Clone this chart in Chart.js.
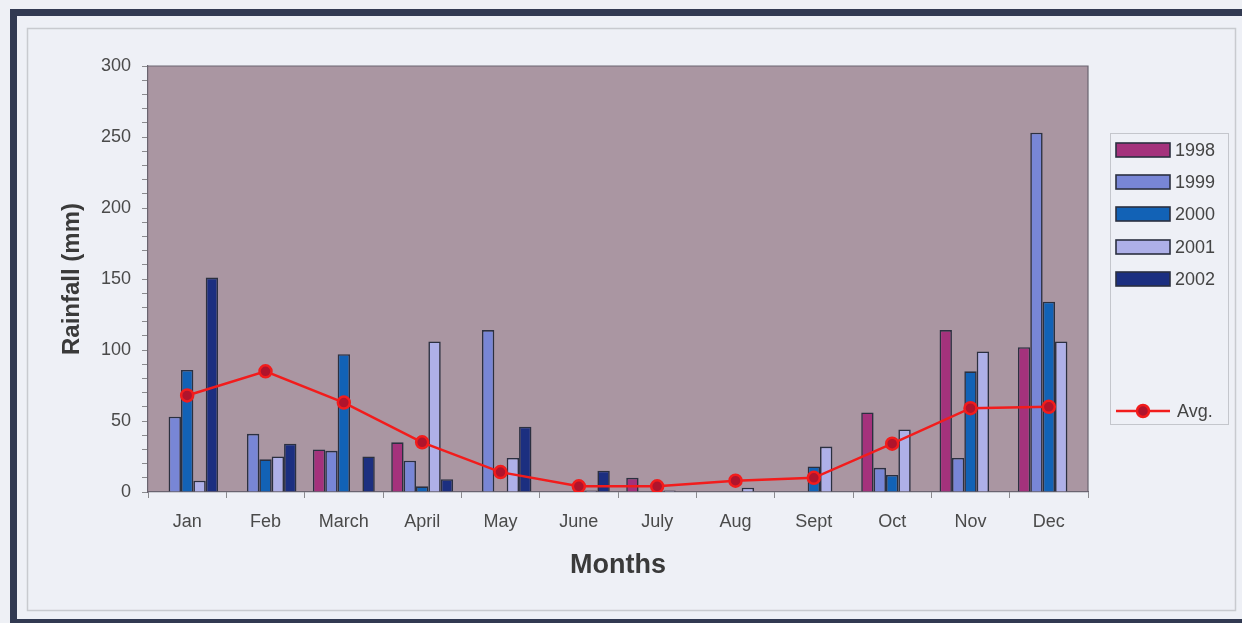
<!DOCTYPE html>
<html>
<head>
<meta charset="utf-8">
<script src="https://cdn.jsdelivr.net/npm/chart.js@4.4.1/dist/chart.umd.min.js"></script>
<style>
  html, body { margin: 0; padding: 0; background: #eef0f5; }
  #wrap { width: 1242px; height: 623px; position: relative; }
</style>
</head>
<body>
<div id="wrap"><canvas id="c" width="1242" height="623"></canvas></div>
<script>
const months = ["Jan", "Feb", "March", "April", "May", "June", "July", "Aug", "Sept", "Oct", "Nov", "Dec"];
const rain1998 = [0, 0, 30, 35, 0, 0, 10, 0, 0, 56, 114, 102];
const rain1999 = [53, 41, 29, 22, 114, 0, 0, 0, 0, 17, 24, 253];
const rain2000 = [86, 23, 97, 4, 0, 0, 0, 0, 18, 12, 85, 134];
const rain2001 = [8, 25, 0, 106, 24, 1, 1, 3, 32, 44, 99, 106];
const rain2002 = [151, 34, 25, 9, 46, 15, 0, 0, 0, 0, 0, 0];
const rainAvg = [68, 85, 63, 35, 14, 4, 4, 8, 10, 34, 59, 60];
const yTickLabels = [0, 50, 100, 150, 200, 250, 300];
const yMinorStep = 10;

const barBorder = "#2b3040";
function barSet(label, data, color) {
  return { type: "bar", label, data, backgroundColor: color, borderColor: barBorder,
           borderWidth: 1.6, order: 1, categoryPercentage: 0.79, barPercentage: 1.0 };
}

const framePlugin = {
  id: "frame",
  beforeDraw(chart) {
    const ctx = chart.ctx;
    ctx.save();
    ctx.fillStyle = "#eef0f5";
    ctx.fillRect(0, 0, 1242, 623);
    ctx.fillStyle = "#323a52";
    ctx.fillRect(10, 9, 1232, 7);
    ctx.fillRect(10, 9, 7, 614);
    ctx.fillRect(10, 619, 1232, 4);
    ctx.fillStyle = "#eef0f6";
    ctx.fillRect(17, 16, 1225, 603);
    ctx.strokeStyle = "#c8cacf";
    ctx.lineWidth = 1.5;
    ctx.strokeRect(27.5, 28.5, 1208, 582);
    const a = chart.chartArea;
    ctx.fillStyle = "#aa96a2";
    ctx.fillRect(a.left, a.top, a.right - a.left, a.bottom - a.top);
    ctx.restore();
  },
  afterDatasetsDraw(chart) {
    const ctx = chart.ctx;
    const a = chart.chartArea;
    ctx.save();
    ctx.strokeStyle = "#6a6470";
    ctx.lineWidth = 1.2;
    ctx.beginPath();
    ctx.moveTo(a.left, a.top); ctx.lineTo(a.right, a.top); ctx.lineTo(a.right, a.bottom);
    ctx.stroke();
    ctx.restore();
  },
  afterDraw(chart) {
    const ctx = chart.ctx;
    ctx.save();
    ctx.fillStyle = "#eef0f6";
    ctx.fillRect(1110, 133, 118, 291);
    ctx.strokeStyle = "#c4c6cc";
    ctx.lineWidth = 1;
    ctx.strokeRect(1110.5, 133.5, 118, 291);
    const ys = [150, 182, 214, 247, 279];
    ctx.font = "18px 'Liberation Sans', Arial, sans-serif";
    ctx.textBaseline = "middle";
    ctx.textAlign = "left";
    chart.data.datasets.forEach((ds, i) => {
      if (ds.type === "bar") {
        const y = ys[i];
        ctx.fillStyle = ds.backgroundColor;
        ctx.fillRect(1116, y - 7, 54, 14);
        ctx.strokeStyle = barBorder;
        ctx.lineWidth = 1.6;
        ctx.strokeRect(1116, y - 7, 54, 14);
        ctx.fillStyle = "#444444";
        ctx.fillText(ds.label, 1175, y + 1);
      } else {
        const y = 411;
        ctx.strokeStyle = ds.borderColor;
        ctx.lineWidth = 2.5;
        ctx.beginPath(); ctx.moveTo(1116, y); ctx.lineTo(1170, y); ctx.stroke();
        ctx.beginPath(); ctx.arc(1143, y, 6, 0, Math.PI * 2);
        ctx.fillStyle = ds.pointBackgroundColor; ctx.fill();
        ctx.lineWidth = 2.5; ctx.strokeStyle = ds.pointBorderColor; ctx.stroke();
        ctx.fillStyle = "#444444";
        ctx.fillText(ds.label, 1177, y + 1);
      }
    });
    ctx.restore();
  }
};

const tickFont = { family: "'Liberation Sans', Arial, sans-serif", size: 18 };

new Chart(document.getElementById("c"), {
  data: {
    labels: months,
    datasets: [
      barSet("1998", rain1998, "#a4327c"),
      barSet("1999", rain1999, "#7886d6"),
      barSet("2000", rain2000, "#1262b6"),
      barSet("2001", rain2001, "#aeb0e8"),
      barSet("2002", rain2002, "#1c2f80"),
      { type: "line", label: "Avg.", data: rainAvg, borderColor: "#f21c1c", borderWidth: 2.5,
        pointRadius: 6, pointBackgroundColor: "#b0142c", pointBorderColor: "#f21c1c",
        pointBorderWidth: 2.5, tension: 0, order: 0 }
    ]
  },
  options: {
    responsive: false,
    animation: false,
    layout: { padding: { left: 30, top: 66, right: 154, bottom: 31 } },
    plugins: { legend: { display: false }, tooltip: { enabled: false } },
    scales: {
      x: {
        offset: true,
        grid: { display: true, offset: true, drawOnChartArea: false, tickLength: 6, color: "#8a8a8e" },
        border: { display: true, color: "#6a6470", width: 1.2 },
        ticks: { font: tickFont, color: "#4a4a4a", padding: 13, maxRotation: 0 },
        title: { display: true, text: "Months", color: "#3a3a3a",
                 font: { family: "'Liberation Sans', Arial, sans-serif", size: 27, weight: "bold" },
                 padding: { top: 0, bottom: 10 } },
        afterFit(s) { s.height = 100; }
      },
      y: {
        min: 0, max: 300,
        afterBuildTicks(s) {
          const t = [];
          for (let v = 0; v <= 300; v += yMinorStep) t.push({ value: v });
          s.ticks = t;
        },
        grid: { display: true, drawOnChartArea: false, tickLength: 6, color: "#8a8a8e" },
        border: { display: true, color: "#6a6470", width: 1.2 },
        ticks: { font: tickFont, color: "#4a4a4a", padding: 11, autoSkip: false,
                 callback: (v) => yTickLabels.includes(v) ? String(v) : "" },
        title: { display: true, text: "Rainfall (mm)", color: "#3a3a3a",
                 font: { family: "'Liberation Sans', Arial, sans-serif", size: 24, weight: "bold" },
                 padding: { top: 28, bottom: 0 } },
        afterFit(s) { s.width = 118; }
      }
    }
  },
  plugins: [framePlugin]
});
</script>
</body>
</html>
